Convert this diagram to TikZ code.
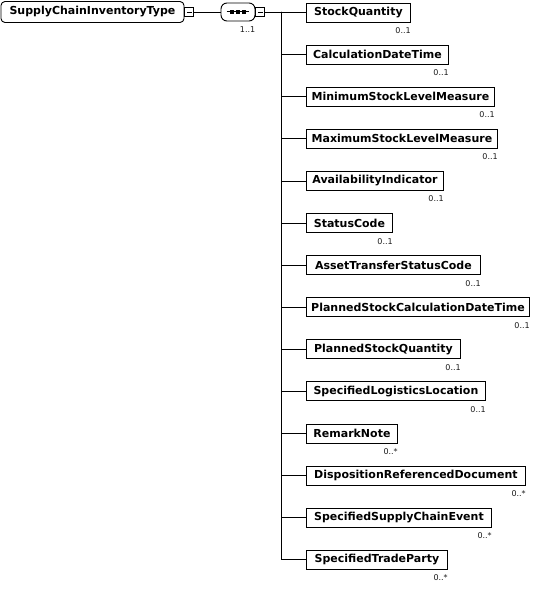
\documentclass[tikz,border=0pt]{standalone}
\usepackage{fontspec}
\setmainfont{DejaVu Sans}
\usepackage{xcolor}
\usetikzlibrary{arrows.meta, positioning, calc}
\definecolor{clrLine}{HTML}{000000}
\definecolor{clrCard}{HTML}{1A1A1A}
\tikzset{
  elem box/.style={rectangle, draw=clrLine, line width=0.9pt, minimum height=19pt, inner sep=0pt, font=\bfseries\fontsize{11}{13}\selectfont},
  root box/.style={rectangle, rounded corners=4pt, draw=clrLine, line width=0.9pt, minimum width=183pt, minimum height=21pt, inner sep=0pt, font=\bfseries\fontsize{11}{13}\selectfont},
  seq box/.style={rectangle, rounded corners=6pt, draw=clrLine, line width=0.9pt, minimum width=34pt, minimum height=18pt, inner sep=0pt},
  minus box/.style={rectangle, draw=clrLine, line width=0.8pt, minimum size=9pt, inner sep=0pt, fill=white,
    path picture={\draw[line width=0.8pt] ([xshift=2pt]path picture bounding box.west) -- ([xshift=-2pt]path picture bounding box.east);}},
  card/.style={font=\fontsize{8}{9}\selectfont, text=clrCard, inner sep=0pt},
  link/.style={draw=clrLine, line width=0.8pt},
}
\begin{document}
\begin{tikzpicture}[x=1pt, y=-1pt]
  \useasboundingbox (0,0) rectangle (536,591);

  % Root type
  \node[root box] (root) at (92.5,12) {SupplyChainInventoryType};
  \node[minus box, anchor=west] (rootminus) at (root.east) {};

  % Sequence compositor
  \node[seq box] (seq) at (238,12) {};
  \node[minus box, anchor=west] (seqminus) at (seq.east) {};
  \node[card, anchor=north east] (seqcard) at ([yshift=-5pt]seq.south east) {1..1};
  \draw[link, line width=1pt] ([xshift=6pt]seq.west) -- ([xshift=-6pt]seq.east);
  \foreach \dx in {-6,0,6}
    \fill[clrLine] ([xshift=\dx pt-1.7pt, yshift=-1.7pt]seq.center) rectangle ([xshift=\dx pt+1.7pt, yshift=1.7pt]seq.center);
  \draw[link] (rootminus.east) -- (seq.west);

  % Trunk
  \coordinate (trunk) at (281,12);
  \draw[link] (seqminus.east) -- (trunk);

  % Child elements
  \foreach \name/\w/\mult [count=\i from 0] in {
      StockQuantity/104/0..1,
      CalculationDateTime/142/0..1,
      MinimumStockLevelMeasure/188/0..1,
      MaximumStockLevelMeasure/191/0..1,
      AvailabilityIndicator/137/0..1,
      StatusCode/86/0..1,
      AssetTransferStatusCode/174/0..1,
      PlannedStockCalculationDateTime/223/0..1,
      PlannedStockQuantity/154/0..1,
      SpecifiedLogisticsLocation/179/0..1,
      RemarkNote/91/0..*,
      DispositionReferencedDocument/219/0..*,
      SpecifiedSupplyChainEvent/185/0..*,
      SpecifiedTradeParty/141/0..*} {
    \node[elem box, minimum width=\w pt, anchor=west] (c\i) at (306,{12.5+42.1*\i}) {\name};
    \node[card, anchor=north east] (m\i) at ([yshift=-5pt]c\i.south east) {\mult};
    \draw[link] (trunk) |- (c\i.west);
  }
\end{tikzpicture}
\end{document}
